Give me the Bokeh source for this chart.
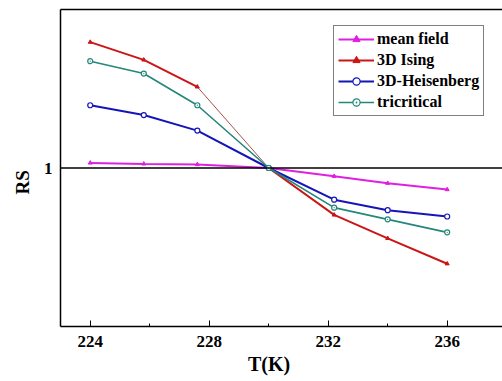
from bokeh.plotting import figure
from bokeh.models import (Range1d, FixedTicker, LinearAxis, Span,
                          Legend, LegendItem)
from bokeh.embed import file_html
from bokeh.resources import INLINE

# Temperatures (K) and the RS ratio for each critical-exponent model
T = [224, 225.8, 227.6, 230, 232.2, 234, 236]
mean_field = [1.016, 1.013, 1.011, 1.0, 0.974, 0.952, 0.932]
ising_3d = [1.397, 1.341, 1.256, 1.0, 0.852, 0.778, 0.698]
heisenberg_3d = [1.198, 1.167, 1.118, 1.0, 0.900, 0.867, 0.847]
tricritical = [1.337, 1.298, 1.198, 1.0, 0.875, 0.838, 0.797]

x_ticks = [224, 228, 232, 236]
x_minor = [226, 230, 234]
y_ticks = [1]

FONT = "Liberation Serif"
NBSP = "\u00a0"

p = figure(width=502, height=381, output_backend="svg", toolbar_location=None,
           x_range=Range1d(223, 237.86), y_range=Range1d(0.5, 1.5),
           min_border_left=60, min_border_right=0, min_border_top=9,
           min_border_bottom=55, x_axis_type=None, y_axis_type=None)
p.outline_line_color = None
p.grid.visible = False
p.background_fill_color = "white"
p.border_fill_color = "white"

# bottom axis: ticks pointing inwards
xa = LinearAxis(ticker=FixedTicker(ticks=x_ticks, minor_ticks=x_minor),
                axis_label="T(K)" + NBSP * 5)
xa.axis_line_color = "black"
xa.axis_line_width = 1.5
xa.major_tick_in = 6
xa.major_tick_out = 0
xa.minor_tick_in = 3
xa.minor_tick_out = 0
xa.major_tick_line_color = "black"
xa.minor_tick_line_color = "black"
xa.major_label_text_font = FONT
xa.major_label_text_font_style = "bold"
xa.major_label_text_font_size = "17px"
xa.major_label_text_color = "black"
xa.major_label_standoff = 9
xa.axis_label_text_font = FONT
xa.axis_label_text_font_style = "bold"
xa.axis_label_text_font_size = "20px"
xa.axis_label_text_color = "black"
xa.axis_label_standoff = 3
p.add_layout(xa, "below")

# left axis: only the "1" label
ya = LinearAxis(ticker=FixedTicker(ticks=y_ticks, minor_ticks=[]),
                axis_label="RS" + NBSP * 6)
ya.axis_line_color = "black"
ya.axis_line_width = 1.5
ya.major_tick_in = 0
ya.major_tick_out = 0
ya.major_label_text_font = FONT
ya.major_label_text_font_style = "bold"
ya.major_label_text_font_size = "17px"
ya.major_label_text_color = "black"
ya.major_label_standoff = 8
ya.axis_label_text_font = FONT
ya.axis_label_text_font_style = "bold"
ya.axis_label_text_font_size = "19px"
ya.axis_label_text_color = "black"
ya.axis_label_standoff = 8
p.add_layout(ya, "left")

# top border line
ta = LinearAxis(ticker=FixedTicker(ticks=[], minor_ticks=[]))
ta.axis_line_color = "black"
ta.axis_line_width = 1.5
ta.major_tick_in = 0
ta.major_tick_out = 0
ta.minor_tick_in = 0
ta.minor_tick_out = 0
ta.major_label_text_font_size = "0px"
ta.major_label_standoff = 0
p.add_layout(ta, "above")

# reference line at RS = 1
p.add_layout(Span(location=1, dimension="width", line_color="black",
                  line_width=1.5))

MAG = "#e020e0"
RED = "#cc1515"
BLUE = "#1515b8"
TEAL = "#23877a"

r_mf = p.line(T, mean_field, line_color=MAG, line_width=2)
m_mf = p.scatter(T, mean_field, marker="triangle", size=4,
                 fill_color=MAG, line_color=MAG)

r_is_a = p.line(T[:3], ising_3d[:3], line_color=RED, line_width=2)
p.line(T[2:4], ising_3d[2:4], line_color="#a85050", line_width=1)
p.line(T[3:], ising_3d[3:], line_color=RED, line_width=2)
m_is = p.scatter(T, ising_3d, marker="triangle", size=4,
                 fill_color=RED, line_color=RED)

r_he = p.line(T, heisenberg_3d, line_color=BLUE, line_width=2)
m_he = p.scatter(T, heisenberg_3d, marker="circle", size=5,
                 fill_color="white", line_color=BLUE, line_width=1.2)

r_tc = p.line(T, tricritical, line_color=TEAL, line_width=1.6)
m_tc = p.scatter(T, tricritical, marker="circle_dot", size=5,
                 fill_color="white", line_color=TEAL, line_width=1.2)

legend = Legend(items=[
    LegendItem(label="mean field", renderers=[r_mf, m_mf]),
    LegendItem(label="3D Ising", renderers=[r_is_a, m_is]),
    LegendItem(label="3D-Heisenberg", renderers=[r_he, m_he]),
    LegendItem(label="tricritical", renderers=[r_tc, m_tc]),
], location=(273, 210))
legend.border_line_color = "black"
legend.border_line_width = 1.2
legend.background_fill_alpha = 1
legend.label_text_font = FONT
legend.label_text_font_style = "bold"
legend.label_text_font_size = "16px"
legend.label_text_color = "black"
legend.glyph_width = 36
legend.glyph_height = 18
legend.label_height = 18
legend.label_standoff = 3
legend.spacing = 3
legend.padding = 4
legend.margin = 0
p.add_layout(legend)

open("out.html", "w").write(file_html(p, INLINE))
